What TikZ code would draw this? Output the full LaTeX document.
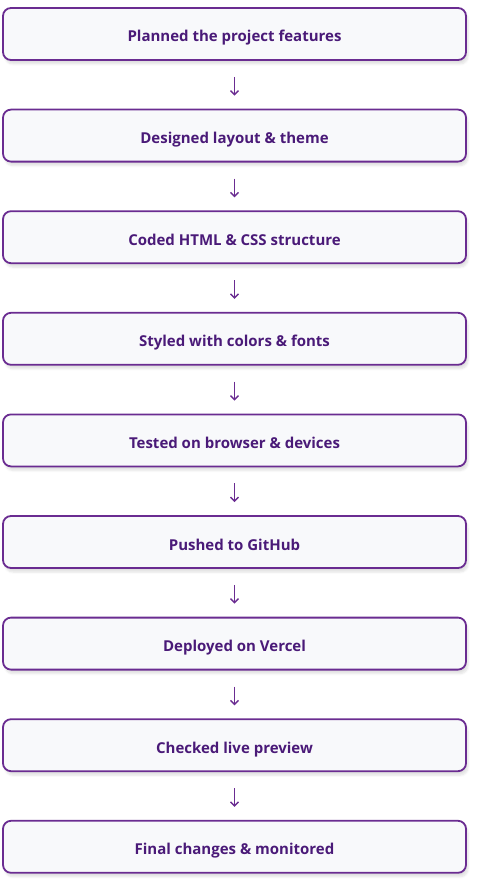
\documentclass[tikz,border=0pt]{standalone}
\usepackage{fontspec}
\setmainfont{Open Sans}
\usetikzlibrary{arrows.meta,shadows.blur}
\definecolor{bordc}{HTML}{6A2C91}
\definecolor{fillc}{HTML}{F8F9FB}
\definecolor{textc}{HTML}{4A1A78}
\tikzset{
  stepbox/.style={draw=bordc, line width=1.8pt, fill=fillc, rounded corners=8pt,
    minimum width=463pt, minimum height=52pt, inner sep=0pt,
    text height=16pt, text depth=0pt,
    text=textc, font=\fontsize{15pt}{17pt}\selectfont\bfseries,
    blur shadow={shadow xshift=2pt, shadow yshift=-4pt, shadow blur steps=6, shadow opacity=12}},
  flow/.style={draw=bordc, line width=1.4pt, -{Straight Barb[length=4pt,width=8pt]},
    shorten <=16pt, shorten >=13pt}
}
\begin{document}
\begin{tikzpicture}[x=1pt,y=-1pt]
\useasboundingbox (0,0) rectangle (500,880);
\foreach \t [count=\i from 0] in {Planned the project features, Designed layout \& theme, Coded HTML \& CSS structure, Styled with colors \& fonts, Tested on browser \& devices, Pushed to GitHub, Deployed on Vercel, Checked live preview, Final changes \& monitored}{
  \node[stepbox] (n\i) at (234.5, 34+\i*101.6) {\t};
}
\foreach \i [evaluate=\i as \j using int(\i+1)] in {0,...,7}{
  \draw[flow] (n\i) -- (n\j);
}
\end{tikzpicture}
\end{document}
